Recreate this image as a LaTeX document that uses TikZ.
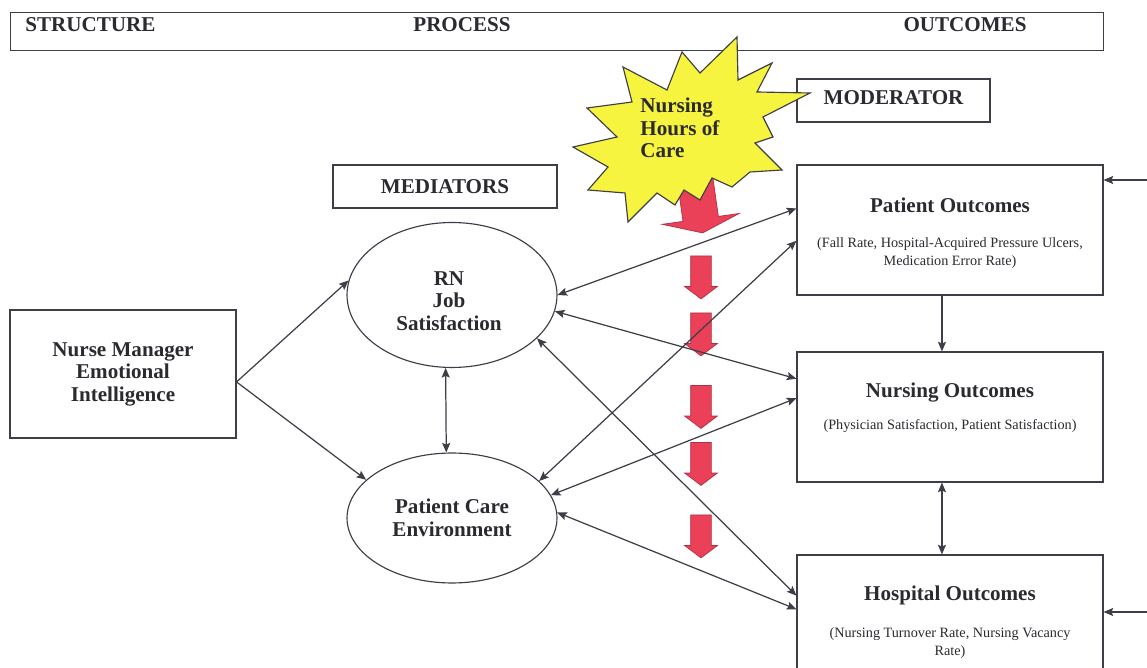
\documentclass[tikz,border=0pt]{standalone}
\usepackage{fontspec}
\setmainfont{Liberation Serif}
\usetikzlibrary{shapes.geometric, shapes.arrows, arrows.meta}
\definecolor{linegray}{RGB}{62,62,72}
\definecolor{textgray}{RGB}{42,42,48}
\definecolor{burstyellow}{RGB}{246,244,62}
\definecolor{hoursred}{RGB}{234,64,88}
\newcommand{\lblfont}{\fontsize{12}{12.8}\selectfont\bfseries}
\newcommand{\detailfont}{\fontsize{8.1}{10.2}\selectfont\mdseries}
\tikzstyle{header} = [text=textgray, font=\lblfont, inner sep=0pt]
\tikzstyle{note} = [text=textgray, font=\detailfont, align=center, inner sep=0pt]
\tikzstyle{box} = [rectangle, draw=linegray, line width=0.65pt, text=textgray, font=\lblfont, align=center, inner sep=0pt]
\tikzstyle{outcome} = [box, minimum width=6.12cm, minimum height=2.6cm]
\tikzstyle{mediator} = [ellipse, draw=linegray, line width=0.65pt, text=textgray, font=\lblfont, align=center, minimum width=4.2cm]
\tikzstyle{hours} = [single arrow, draw=hoursred!75!black, fill=hoursred, rotate=-90, minimum height=0.86cm, minimum width=0.64cm, single arrow head extend=0.12cm, single arrow tip angle=106, inner xsep=0pt, inner ysep=0.2cm]
\tikzstyle{arrow} = [draw=linegray, line width=0.7pt, -{Stealth[length=5.5pt, width=4.6pt, inset=1pt]}]
\tikzstyle{biarrow} = [draw=linegray, line width=0.7pt, {Stealth[length=5.5pt, width=4.6pt, inset=1pt]}-{Stealth[length=5.5pt, width=4.6pt, inset=1pt]}]

\begin{document}
\begin{tikzpicture}[x=0.02cm, y=-0.02cm]
  \clip (0,0) rectangle (1147,668);
  \fill [white] (0,0) rectangle (1147,668);

  % top band
  \node (band) [box, anchor=north west, minimum width=21.86cm, minimum height=0.76cm] at (10,12) {};
  \node (structure) [header, anchor=west] at (25,25) {STRUCTURE};
  \node (process) [header] at (462,25) {PROCESS};
  \node (outcomes) [header] at (965,25) {OUTCOMES};

  \node (moderator) [box, minimum width=3.86cm, minimum height=0.86cm] at (893.5,100.5) {};
  \node (modtext) [header] at (893.5,98) {MODERATOR};
  \node (mediators) [box, minimum width=4.48cm, minimum height=0.86cm] at (445,186.5) {MEDIATORS};

  \node (nm) [box, minimum width=4.52cm, minimum height=2.56cm] at (123,374) {Nurse Manager\\Emotional\\Intelligence};
  \node (rn) [mediator, minimum height=2.9cm] at (452,295) {};
  \node (rntext) [header, align=center] at (449,301) {RN\\Job\\Satisfaction};
  \node (pce) [mediator, minimum height=2.6cm] at (452,518) {Patient Care\\Environment};

  % outcome boxes
  \node (pat) [outcome] at (950,230) {};
  \node (pattitle) [header] at (950,205) {Patient Outcomes};
  \node (patnote) [note] at (950,253) {(Fall Rate, Hospital-Acquired Pressure Ulcers,\\Medication Error Rate)};
  \node (nurs) [outcome] at (950,417) {};
  \node (nurstitle) [header] at (950,393) {Nursing Outcomes};
  \node (nursnote) [note] at (950,426) {(Physician Satisfaction, Patient Satisfaction)};
  \node (hosp) [outcome] at (950,620) {};
  \node (hosptitle) [header] at (950,595) {Hospital Outcomes};
  \node (hospnote) [note] at (950,643) {(Nursing Turnover Rate, Nursing Vacancy\\Rate)};

  % hours of care
  \node (h0) [hours, rotate=8, minimum height=1.2cm, minimum width=1.54cm, single arrow head extend=0.42cm, single arrow tip angle=140, inner ysep=0.35cm] at (698,200) {};
  \filldraw [fill=burstyellow, draw=linegray, line width=0.65pt]
    (737,37) -- (738,80) -- (772,63) -- (757,92) -- (810,93) -- (763,117)
    -- (773,137) -- (755,143) -- (782,170) -- (750,172) -- (732,187) -- (712,178)
    -- (700,200) -- (684,190) -- (675,205) -- (657,193) -- (628,222) -- (625,193)
    -- (588,190) -- (608,167) -- (573,147) -- (617,137) -- (587,108) -- (632,102)
    -- (623,67) -- (667,90) -- (682,52) -- (700,73) -- cycle;
  \node (hoc) [header, anchor=west, align=left] at (640,128) {Nursing\\Hours of\\Care};

  \node (h1) [hours] at (701,273.5) {};
  \node (h2) [hours] at (701,330.5) {};
  \node (h3) [hours] at (701,403) {};
  \node (h4) [hours] at (701,460) {};
  \node (h5) [hours] at (701,532.5) {};

  \coordinate (patin) at (1147,180);
  \coordinate (hospin) at (1147,612);

  \draw [arrow] (nm.-4.5) -- (rn.172);
  \draw [arrow] (nm.-4.5) -- (pce.156);
  \draw [biarrow] (rn.265) -- (pce.95);
  \draw [biarrow] (rn.east) -- (pat.172.5);
  \draw [biarrow] (pce.23) -- (pat.184);
  \draw [biarrow] (rn.-9) -- (nurs.166);
  \draw [biarrow] (pce.13) -- (nurs.173);
  \draw [biarrow] (rn.-27) -- (hosp.171);
  \draw [biarrow] (pce.3) -- (hosp.176);
  \draw [arrow] (pat.263) -- (nurs.97);
  \draw [biarrow] (nurs.263) -- (hosp.97);
  \draw [arrow] (patin) -- (patin -| pat.east);
  \draw [arrow] (hospin) -- (hospin -| hosp.east);
\end{tikzpicture}
\end{document}
